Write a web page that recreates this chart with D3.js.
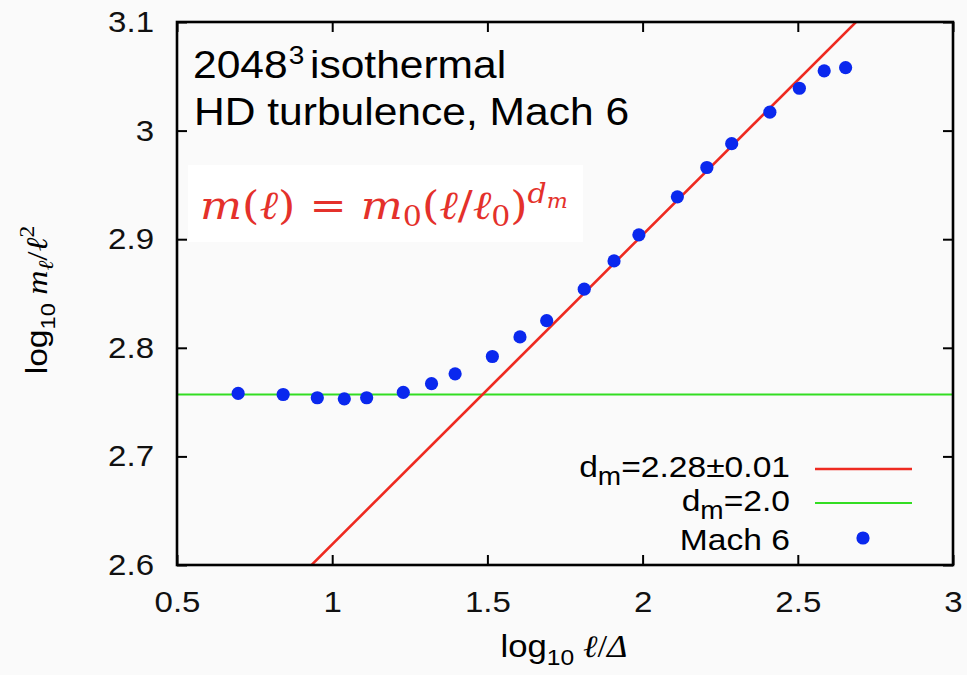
<!DOCTYPE html>
<html><head><meta charset="utf-8">
<script src="https://cdn.jsdelivr.net/npm/d3@7"></script>
<style>html,body{margin:0;padding:0;background:#fafafa}svg{display:block}</style>
</head><body><svg id="c" width="967" height="675"></svg>
<script>
// ---- data ----
const xTicks = [0.5, 1, 1.5, 2, 2.5, 3];
const xTickLabels = ["0.5", "1", "1.5", "2", "2.5", "3"];
const yTicks = [2.6, 2.7, 2.8, 2.9, 3.0, 3.1];
const yTickLabels = ["2.6", "2.7", "2.8", "2.9", "3", "3.1"];
const logL = [0.697, 0.842, 0.952, 1.039, 1.111, 1.229, 1.320, 1.396, 1.516, 1.605, 1.691,
              1.812, 1.908, 1.988, 2.112, 2.207, 2.287, 2.410, 2.505, 2.585, 2.654];
const logM = [2.758, 2.757, 2.754, 2.753, 2.754, 2.759, 2.767, 2.776, 2.792, 2.810, 2.825,
              2.854, 2.880, 2.904, 2.939, 2.966, 2.988, 3.017, 3.039, 3.055, 3.058];
const fitSlope = 0.285;      // red fit, d_m - 2
const fitIntercept = 2.334;
const flatLevel = 2.757;     // green, d_m = 2
const legendLabels = ["2.28\u00B10.01", "2.0", "Mach 6"];

// ---- setup ----
const W = 967, H = 675;
const m = {l: 177, t: 22, r: 953, b: 565};
const SX = 1.12;
const SANS = "'Liberation Sans', Arial, Helvetica, sans-serif";
const SERIF = "'Liberation Serif', 'Times New Roman', serif";
const MATH = "'DejaVu Serif', 'Liberation Serif', serif";
const RED = "#ee2a20", GREEN = "#33dd22", BLUE = "#0a28ee", TXTRED = "#e4312b";

const x = d3.scaleLinear().domain([0.5, 3]).range([m.l, m.r]);
const y = d3.scaleLinear().domain([2.6, 3.1]).range([m.b, m.t]);
const svg = d3.select("#c");
svg.append("rect").attr("width", W).attr("height", H).attr("fill", "#fafafa");

function rich(parent, segs, base) {
  const t = parent.append("text").attr("text-anchor", base.anchor || "start")
    .attr("fill", base.fill || "#000");
  let cur = 0;
  segs.forEach(s => {
    const off = s.off || 0;
    t.append("tspan").text(s.t)
      .attr("font-size", s.size || base.size)
      .attr("font-family", s.f || base.f)
      .attr("font-style", s.it ? "italic" : "normal")
      .attr("dy", cur - off)
      .attr("dx", s.dx || 0);
    cur = off;
  });
  return t;
}

// formula box (white)
svg.append("rect").attr("x", 188).attr("y", 165).attr("width", 395).attr("height", 77).attr("fill", "#ffffff");

// clip
svg.append("clipPath").attr("id", "clip").append("rect")
  .attr("x", m.l).attr("y", m.t).attr("width", m.r - m.l).attr("height", m.b - m.t);

const plot = svg.append("g").attr("clip-path", "url(#clip)");
plot.append("line").attr("x1", x(0.5)).attr("x2", x(3))
  .attr("y1", y(flatLevel)).attr("y2", y(flatLevel))
  .attr("stroke", GREEN).attr("stroke-width", 2.2);
const fitLine = d3.line().x(d => x(d)).y(d => y(fitIntercept + fitSlope * d));
plot.append("path").datum([0.5, 3]).attr("d", fitLine)
  .attr("fill", "none").attr("stroke", RED).attr("stroke-width", 2.6);
plot.selectAll("circle.pt").data(logL).join("circle").attr("class", "pt")
  .attr("cx", d => x(d)).attr("cy", (d, i) => y(logM[i])).attr("r", 6.6).attr("fill", BLUE);

// axes
function styleAxis(g) {
  g.select(".domain").remove();
  g.selectAll(".tick line").attr("stroke", "#000").attr("stroke-width", 2);
  g.selectAll("text").attr("font-family", SANS).attr("font-size", 29.5).attr("fill", "#111");
}
const gB = svg.append("g").attr("transform", `translate(0,${m.b})`)
  .call(d3.axisBottom(x).tickValues(xTicks).tickSizeInner(-10).tickSizeOuter(0).tickPadding(26)
    .tickFormat((d, i) => xTickLabels[i]));
styleAxis(gB);
gB.selectAll("text").attr("transform", `scale(${SX},1)`);
const gL = svg.append("g").attr("transform", `translate(${m.l},0)`)
  .call(d3.axisLeft(y).tickValues(yTicks).tickSizeInner(-10).tickSizeOuter(0)
    .tickFormat((d, i) => yTickLabels[i]));
styleAxis(gL);
gL.selectAll("text").attr("x", -23 / SX).attr("transform", `scale(${SX},1)`);
const gT = svg.append("g").attr("transform", `translate(0,${m.t})`)
  .call(d3.axisTop(x).tickValues(xTicks).tickSizeInner(-10).tickSizeOuter(0).tickFormat(""));
styleAxis(gT);
const gR = svg.append("g").attr("transform", `translate(${m.r},0)`)
  .call(d3.axisRight(y).tickValues(yTicks).tickSizeInner(-10).tickSizeOuter(0).tickFormat(""));
styleAxis(gR);

// frame
svg.append("rect").attr("x", m.l).attr("y", m.t).attr("width", m.r - m.l).attr("height", m.b - m.t)
  .attr("fill", "none").attr("stroke", "#000").attr("stroke-width", 2.6);

// title text
const t1 = svg.append("g").attr("transform", `translate(193,78) scale(${SX},1)`);
rich(t1, [{t: "2048"}, {t: "3", size: 25, off: 14, dx: 1}, {t: "isothermal", dx: 5}], {size: 38, f: SANS});
const t2 = svg.append("g").attr("transform", `translate(194,125) scale(${SX},1)`);
rich(t2, [{t: "HD turbulence, Mach 6"}], {size: 38, f: SANS});

// formula
const tf = svg.append("g");
const ftxt = rich(tf, [
  {t: "m", it: true}, {t: "("}, {t: "\u2113", it: true}, {t: ")"}, {t: " = "},
  {t: "m", it: true}, {t: "0", size: 27, off: -7}, {t: "("}, {t: "\u2113", it: true}, {t: "/"},
  {t: "\u2113", it: true}, {t: "0", size: 27, off: -7}, {t: ")"},
  {t: "d", it: true, size: 27, off: 16}, {t: "m", it: true, size: 20, off: 11}
], {size: 40, f: MATH, fill: TXTRED});
const fb = ftxt.node().getBBox();
const fsx = 368 / fb.width;
tf.attr("transform", `translate(${200 - fb.x * fsx},219) scale(${fsx},1)`);

// legend
const legY = [477, 511, 550];
const legSym = [469, 503, 538];
const l1 = svg.append("g").attr("transform", `translate(790,${legY[0]}) scale(${SX},1)`);
rich(l1, [{t: "d"}, {t: "m", size: 25, off: -8}, {t: "=" + legendLabels[0]}], {size: 30, f: SANS, anchor: "end"});
const l2 = svg.append("g").attr("transform", `translate(790,${legY[1]}) scale(${SX},1)`);
rich(l2, [{t: "d"}, {t: "m", size: 25, off: -8}, {t: "=" + legendLabels[1]}], {size: 30, f: SANS, anchor: "end"});
const l3 = svg.append("g").attr("transform", `translate(790,${legY[2]}) scale(${SX},1)`);
rich(l3, [{t: legendLabels[2]}], {size: 30, f: SANS, anchor: "end"});
svg.append("line").attr("x1", 815).attr("x2", 912).attr("y1", legSym[0]).attr("y2", legSym[0])
  .attr("stroke", RED).attr("stroke-width", 2.6);
svg.append("line").attr("x1", 815).attr("x2", 912).attr("y1", legSym[1]).attr("y2", legSym[1])
  .attr("stroke", GREEN).attr("stroke-width", 2.2);
svg.append("circle").attr("cx", 863).attr("cy", legSym[2]).attr("r", 6.6).attr("fill", BLUE);

// axis labels
const xl = svg.append("g").attr("transform", `translate(564,657) scale(${SX},1)`);
rich(xl, [{t: "log", f: SANS}, {t: "10", f: SANS, size: 22, off: -8}, {t: " "},
  {t: "\u2113", it: true}, {t: "/"}, {t: "\u0394", it: true}], {size: 31, f: SERIF, anchor: "middle"});
const yl = svg.append("g").attr("transform", `translate(47,300) rotate(-90) scale(${SX},1)`);
rich(yl, [{t: "log", f: SANS}, {t: "10", f: SANS, size: 21, off: -8}, {t: " "},
  {t: "m", it: true}, {t: "\u2113", it: true, size: 21, off: -6}, {t: "/"}, {t: "\u2113", it: true},
  {t: "2", size: 21, off: 13}], {size: 30, f: SERIF, anchor: "middle"});
</script></body></html>
